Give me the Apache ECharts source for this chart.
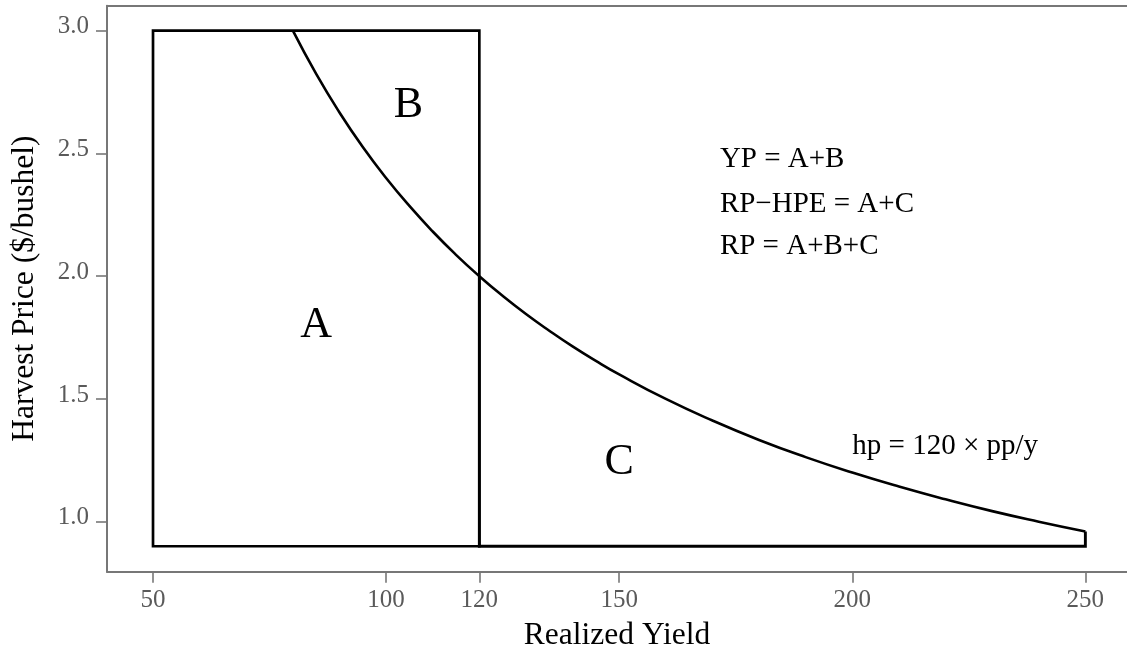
<!DOCTYPE html>
<html>
<head>
<meta charset="utf-8">
<title>Harvest Price vs Realized Yield</title>
<script src="https://cdn.jsdelivr.net/npm/echarts@6/dist/echarts.min.js"></script>
<style>
  html, body { margin: 0; padding: 0; background: #fff; }
  #chart { width: 1127px; height: 651px; }
</style>
</head>
<body>
<div id="chart"></div>
<script>
// Axis tick positions
const xTicks = [50, 100, 120, 150, 200, 250];
const yTicks = [1.0, 1.5, 2.0, 2.5, 3.0];

// Yield-protection rectangle (yield bounds) and the price floor / cap
const rectYield = [50, 120];
const priceFloor = 0.9;
const priceCap = 3.0;
const endYield = 250;

// Harvest-price curve hp = 120 x pp / y
const curveYield = [80, 85, 90, 95, 100, 105, 110, 115, 120, 125, 130, 135, 140, 145, 150,
                    160, 170, 180, 190, 200, 210, 220, 230, 240, 250];
const curvePrice = [3.000, 2.824, 2.667, 2.526, 2.400, 2.286, 2.182, 2.087, 2.000, 1.920,
                    1.846, 1.778, 1.714, 1.655, 1.600, 1.500, 1.412, 1.333, 1.263, 1.200,
                    1.143, 1.091, 1.043, 1.000, 0.960];

// Region letters and their anchor points (yield, price)
const regionNames = ['A', 'B', 'C'];
const regionYield = [85, 104.8, 150];
const regionPrice = [1.80, 2.697, 1.243];

// Coverage identities
const identities = ['YP = A+B', 'RP\u2212HPE = A+C', 'RP = A+B+C'];
const identityYield = [171.6, 171.6, 171.6];
const identityPrice = [2.476, 2.293, 2.12];

const curveNote = 'hp = 120 \u00d7 pp/y';
const curveNoteAt = [200, 1.307];

const FONT = 'Liberation Serif';
const FRAME = '#777';

const curveData = curveYield.map((x, i) => [x, curvePrice[i]]);
const priceAt120 = curvePrice[curveYield.indexOf(rectYield[1])];
const lastPrice = curvePrice[curvePrice.length - 1];

const rectData = [
  [rectYield[0], 2.0],
  [rectYield[0], priceCap],
  [rectYield[1], priceCap],
  [rectYield[1], priceFloor],
  [rectYield[0], priceFloor],
  [rectYield[0], 2.0]
];
const regionCData = [
  [endYield, lastPrice],
  [endYield, priceFloor],
  [rectYield[1], priceFloor],
  [rectYield[1], priceAt120]
];

const blackLine = (w) => ({ color: '#000', width: w, join: 'miter', cap: 'butt' });

const X_MIN = 40.13, X_MAX = 258.93;

const chart = echarts.init(document.getElementById('chart'), null, { renderer: 'canvas' });

chart.setOption({
  animation: false,
  backgroundColor: '#fff',
  grid: {
    left: 107, right: 0, top: 5.7, bottom: 79.3, show: false,
    outerBoundsMode: 'none', containLabel: false
  },
  xAxis: [
    {
      type: 'value',
      position: 'bottom',
      min: X_MIN, max: X_MAX,
      name: 'Realized Yield',
      nameLocation: 'middle',
      nameGap: 48,
      nameTextStyle: { fontFamily: FONT, fontSize: 31.5, color: '#000' },
      axisLine: { show: true, onZero: false, lineStyle: { color: FRAME, width: 2 } },
      splitLine: { show: false },
      axisTick: {
        show: true, customValues: xTicks, length: 11,
        lineStyle: { color: FRAME, width: 1.6 }
      },
      axisLabel: {
        show: true, customValues: xTicks, margin: 16,
        fontFamily: FONT, fontSize: 25, color: '#5a5a5a',
        formatter: (v) => String(v)
      }
    },
    {
      type: 'value',
      position: 'top',
      min: X_MIN, max: X_MAX,
      axisLine: { show: true, onZero: false, lineStyle: { color: FRAME, width: 2 } },
      axisTick: { show: false },
      axisLabel: { show: false },
      splitLine: { show: false }
    }
  ],
  yAxis: {
    type: 'value',
    min: 0.7963, max: 3.1018,
    name: 'Harvest Price ($/bushel)',
    nameLocation: 'middle',
    nameGap: 66,
    nameTextStyle: { fontFamily: FONT, fontSize: 31.5, color: '#000' },
    axisLine: { show: true, onZero: false, lineStyle: { color: FRAME, width: 2 } },
    splitLine: { show: false },
    axisTick: {
      show: true, customValues: yTicks, length: 11,
      lineStyle: { color: FRAME, width: 1.6 }
    },
    axisLabel: {
      show: true, customValues: yTicks, margin: 18,
      fontFamily: FONT, fontSize: 25, color: '#5a5a5a',
      verticalAlign: 'bottom',
      lineHeight: 8,
      formatter: (v) => v.toFixed(1)
    }
  },
  series: [
    {
      type: 'line', name: 'rect', data: rectData,
      showSymbol: false, symbol: 'none', silent: true,
      lineStyle: blackLine(2.7)
    },
    {
      type: 'line', name: 'regionC', data: regionCData,
      showSymbol: false, symbol: 'none', silent: true,
      lineStyle: blackLine(2.9)
    },
    {
      type: 'line', name: 'curve', data: curveData,
      showSymbol: false, symbol: 'none', silent: true,
      smooth: 0.5,
      lineStyle: blackLine(2.6)
    }
  ]
});

// Text annotations placed at data coordinates through the chart's own scales
function textAt(text, xVal, yVal, size, align) {
  const p = chart.convertToPixel({ gridIndex: 0 }, [xVal, yVal]);
  return {
    type: 'text',
    x: p[0], y: p[1],
    z: 10,
    silent: true,
    style: {
      text: text,
      fill: '#000',
      font: size + 'px "' + FONT + '"',
      textAlign: align,
      textVerticalAlign: 'middle'
    }
  };
}

const notes = [];
regionNames.forEach((n, i) => notes.push(textAt(n, regionYield[i], regionPrice[i], 44, 'center')));
identities.forEach((t, i) => notes.push(textAt(t, identityYield[i], identityPrice[i], 29, 'left')));
notes.push(textAt(curveNote, curveNoteAt[0], curveNoteAt[1], 29, 'left'));

chart.setOption({ graphic: { elements: notes } });
</script>
</body>
</html>
